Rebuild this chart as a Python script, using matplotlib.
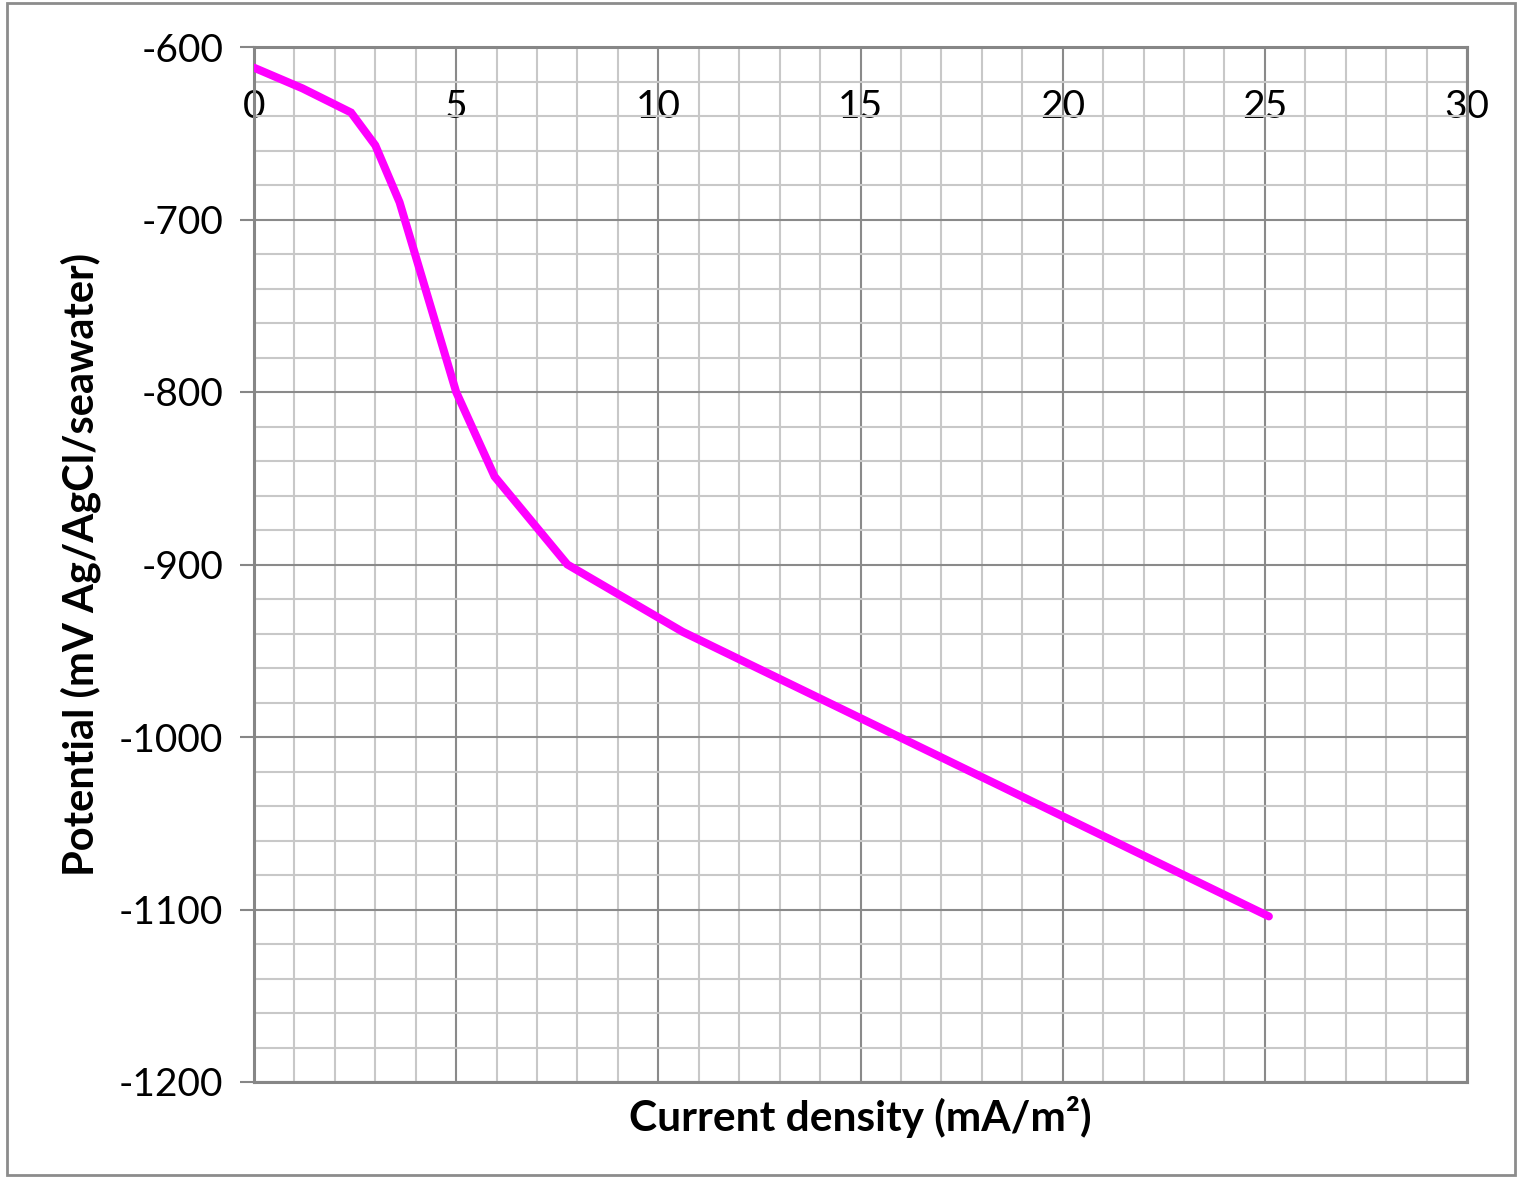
import matplotlib
matplotlib.use("Agg")
import matplotlib.pyplot as plt
from matplotlib.ticker import MultipleLocator
from matplotlib.patches import Rectangle

current_density = [0.0, 1.2, 2.4, 3.0, 3.6, 5.0, 5.95, 7.75, 10.6, 25.1]
potential = [-612, -624, -638, -657, -690, -800, -849, -900, -939, -1104]
x_ticks = [0, 5, 10, 15, 20, 25, 30]
y_ticks = [-600, -700, -800, -900, -1000, -1100, -1200]

plt.rcParams['font.family'] = ['Lato', 'DejaVu Sans']
plt.rcParams['axes.unicode_minus'] = False

W, H = 1518, 1178
fig = plt.figure(figsize=(W / 100, H / 100), dpi=100)
ax = fig.add_axes([254 / W, 1 - 1082 / H, (1467 - 254) / W, (1082 - 47) / H])

fig.patches.append(Rectangle((7 / W, 3 / H), (1515 - 7) / W, (1175 - 3) / H,
                             transform=fig.transFigure, fill=False,
                             edgecolor='#8c8c8c', linewidth=2))

ax.plot(current_density, potential, color='#ff00ff', linewidth=5.8,
        solid_capstyle='round', solid_joinstyle='miter', zorder=3)

ax.set_xlim(0, 30)
ax.set_ylim(-1200, -600)
ax.set_xticks(x_ticks)
ax.set_yticks(y_ticks)
ax.xaxis.set_minor_locator(MultipleLocator(1))
ax.yaxis.set_minor_locator(MultipleLocator(20))

ax.grid(which='major', color='#8a8a8a', linewidth=1.5, zorder=0)
ax.grid(which='minor', color='#c8c8c8', linewidth=1.5, zorder=0)
ax.set_axisbelow(True)

for s in ax.spines.values():
    s.set_color('#868686')
    s.set_linewidth(2.2)

ax.tick_params(axis='x', which='both', top=False, bottom=False,
               labeltop=True, labelbottom=False, length=0, pad=-56,
               labelsize=28, colors='black')
ax.tick_params(axis='y', which='major', direction='out', length=10,
               width=1.5, color='#868686', labelsize=28, pad=12)
ax.tick_params(axis='y', which='minor', length=0)

ax.set_xlabel('Current density (mA/m²)', fontsize=30.5, fontweight='bold',
              labelpad=10)
ax.set_ylabel('Potential (mV Ag/AgCl/seawater)', fontsize=30,
              fontweight='bold', labelpad=13)

fig.savefig('out.png', dpi=100)
